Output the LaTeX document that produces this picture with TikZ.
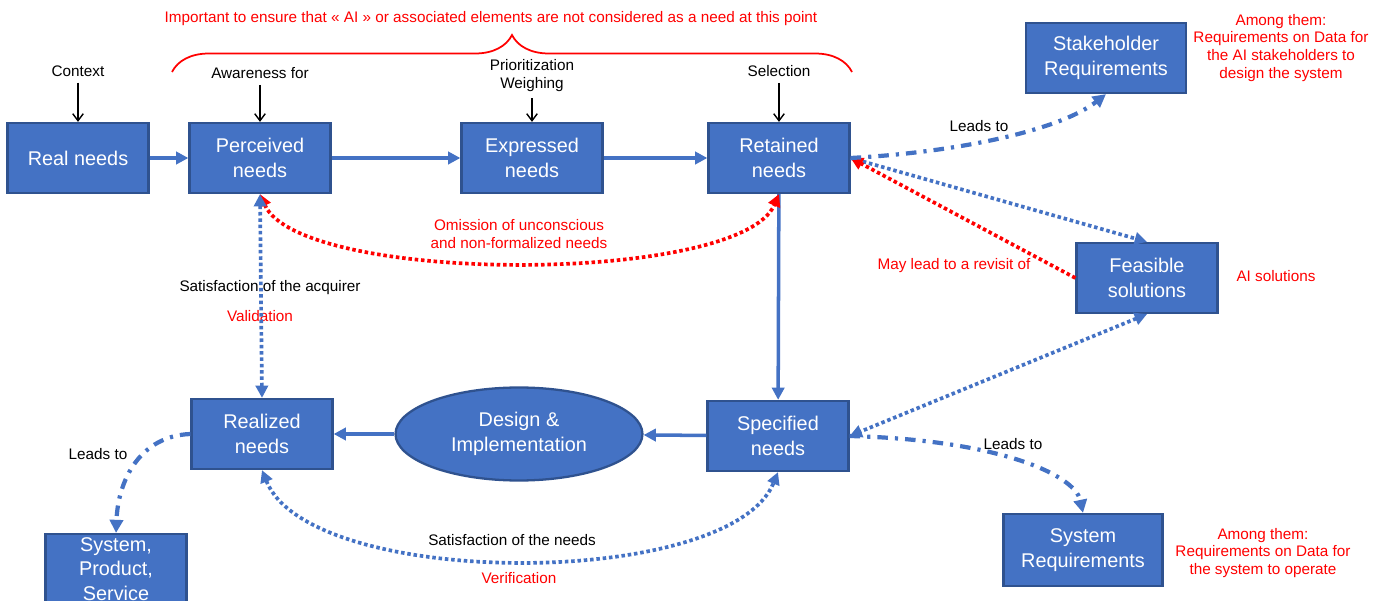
\documentclass[tikz,border=0pt]{standalone}
\usepackage{fontspec}
\setmainfont{Liberation Sans}
\usetikzlibrary{arrows.meta,shapes.geometric,decorations.pathreplacing}
\definecolor{needblue}{HTML}{4472C4}
\definecolor{neededge}{HTML}{2F528F}
\definecolor{notered}{HTML}{FF0000}
\tikzset{
  needbox/.style={draw=neededge, line width=1.3pt, fill=needblue, text=white, minimum width=2.82cm, minimum height=1.4cm, align=center, font=\fontsize{11.3}{14.2}\selectfont},
  tag/.style={font=\fontsize{8.7}{10.2}\selectfont, align=center},
  redtag/.style={tag, text=notered},
  flow/.style={draw=needblue, line width=2pt, -{Triangle[length=7pt,width=7pt]}},
  dotline/.style={draw=needblue, line width=2.1pt, dash pattern=on 2pt off 1.6pt, -{Triangle[length=7pt,width=7pt]}},
  dotflow/.style={dotline, {Triangle[length=7pt,width=7pt]}-{Triangle[length=7pt,width=7pt]}},
  leadsflow/.style={draw=needblue, line width=2.4pt, dash pattern=on 6pt off 4pt on 1.8pt off 4pt, -{Triangle[length=7.5pt,width=7.5pt]}},
  cue/.style={black, line width=0.8pt, -{Straight Barb[length=4pt,width=6pt]}}
}
\begin{document}
\begin{tikzpicture}[x=0.02cm,y=-0.02cm]
\useasboundingbox (0,0) rectangle (1384,601);
\node[needbox] (real) at (78,158) {Real needs};
\node[needbox] (perceived) at (260,158) {Perceived\\needs};
\node[needbox] (expressed) at (532,158) {Expressed\\needs};
\node[needbox] (retained) at (779,158) {Retained\\needs};
\node[needbox, minimum width=3.2cm] (stakereq) at (1106,58) {Stakeholder\\Requirements};
\node[needbox] (feasible) at (1147,278) {Feasible\\solutions};
\node[needbox] (realized) at (262,434) {Realized\\needs};
\node[ellipse, draw=neededge, line width=1.3pt, fill=needblue, text=white, minimum width=4.94cm, minimum height=1.86cm, align=center, font=\fontsize{11.3}{14.2}\selectfont] (design) at (519,434) {Design \&\\Implementation};
\node[needbox] (specified) at (778,436) {Specified\\needs};
\node[needbox, minimum width=3.18cm, minimum height=1.44cm] (sysreq) at (1083,550) {System\\Requirements};
\node[needbox, anchor=north, inner ysep=1pt] (product) at (116,533) {System,\\Product,\\Service};

\node[tag] (context) at (78,71) {Context};
\node[tag] (awareness) at (260,73) {Awareness for};
\node[tag] (priority) at (532,76) {Prioritization\\Weighing};
\node[tag] (selection) at (779,71) {Selection};
\node[redtag] (important) at (491,19) {Important to ensure that « AI » or associated elements are not considered as a need at this point};
\node[redtag] (omission) at (519,234) {Omission of unconscious\\and non-formalized needs};
\node[tag] (acquirer) at (270,288) {Satisfaction of the acquirer};
\node[redtag] (validation) at (260,316) {Validation};
\node[tag] (satneeds) at (512,540) {Satisfaction of the needs};
\node[redtag] (verification) at (519,578) {Verification};
\node[tag] (leadsstake) at (979,126) {Leads to};
\node[tag] (leadssys) at (1013,444) {Leads to};
\node[tag] (leadsprod) at (98,454) {Leads to};
\node[redtag] (revisit) at (954,266) {May lead to a revisit of};
\node[redtag] (aisol) at (1276,276) {AI solutions};
\node[redtag] (stakenote) at (1281,48) {Among them:\\Requirements on Data for\\the AI stakeholders to\\design the system};
\node[redtag] (sysnote) at (1263,553) {Among them:\\Requirements on Data for\\the system to operate};

\coordinate (bracel) at (172,72);
\coordinate (bracer) at (852,72);
\draw[notered, line width=1pt, decorate, decoration={brace, amplitude=0.74cm}] (bracel) -- (bracer);

\draw[cue] (context) -- (real);
\draw[cue] (awareness) -- (perceived);
\draw[cue] (priority) -- (expressed);
\draw[cue] (selection) -- (retained);

\draw[flow] (real) -- (perceived);
\draw[flow] (perceived) -- (expressed);
\draw[flow] (expressed) -- (retained);
\draw[flow] (retained) -- (specified);
\draw[flow] (specified) -- (design);
\draw[flow] (design) -- (realized);

\draw[dotflow, draw=notered] (perceived.south) .. controls (300,285) and (740,285) .. (retained.south);
\draw[dotflow] (perceived.south) -- (realized.north);
\draw[dotflow] (realized.south) .. controls (310,590) and (730,590) .. (specified.south);
\draw[dotline] (retained.east) -- (feasible.north);
\draw[dotline, draw=notered] (feasible.west) -- (retained.east);
\draw[dotflow] (feasible.south) -- (specified.east);

\draw[leadsflow] (retained.east) .. controls (960,152) and (1060,130) .. (stakereq.south);
\draw[leadsflow] (specified.east) .. controls (1000,440) and (1075,475) .. (sysreq.north);
\draw[leadsflow] (realized.west) .. controls (140,436) and (118,480) .. (product.north);
\end{tikzpicture}
\end{document}
